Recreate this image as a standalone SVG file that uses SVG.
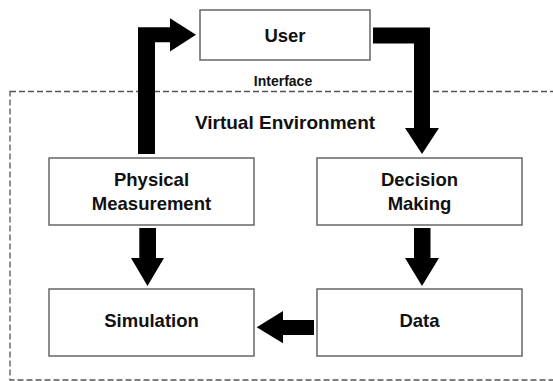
<svg xmlns="http://www.w3.org/2000/svg" width="553" height="381" viewBox="0 0 553 381">
<style>
.box{fill:#fff;stroke:#666;stroke-width:1.5}
.lbl{font-family:"Liberation Sans",Arial,sans-serif;font-weight:bold;font-size:18.5px;fill:#111;text-anchor:middle}
.arr{fill:#000}
.env{fill:none;stroke:#555;stroke-width:1.3;stroke-dasharray:6 3}
</style>
<rect width="553" height="381" fill="#fff"/>
<g id="virtual-environment">
<rect class="env" x="10" y="91.5" width="560" height="288.5"/>
<text class="lbl" x="285" y="128.5" style="font-size:19px">Virtual Environment</text>
</g>
<g id="interface">
<text class="lbl" x="283" y="85.5" style="font-size:14px">Interface</text>
</g>
<g id="user">
<rect class="box" x="200" y="10" width="170" height="50"/>
<text class="lbl" x="285" y="41.5">User</text>
</g>
<g id="physical-measurement">
<rect class="box" x="49" y="158" width="205" height="67"/>
<text class="lbl" x="151.5" y="186">Physical</text>
<text class="lbl" x="151.5" y="209.5">Measurement</text>
</g>
<g id="decision-making">
<rect class="box" x="317" y="158" width="205" height="67"/>
<text class="lbl" x="419.5" y="186">Decision</text>
<text class="lbl" x="419.5" y="209.5">Making</text>
</g>
<g id="simulation">
<rect class="box" x="49" y="289" width="205" height="67"/>
<text class="lbl" x="151.5" y="327">Simulation</text>
</g>
<g id="data">
<rect class="box" x="317" y="289" width="205" height="67"/>
<text class="lbl" x="419.5" y="327">Data</text>
</g>
<g id="connectors">
<polygon class="arr" points="138,154 138,27.3 170,27.3 170,18.3 196,34.8 170,51.5 170,42.3 155,42.3 155,154"/>
<polygon class="arr" points="373,27.5 430,27.5 430,128 439,128 422,154 405,128 414,128 414,43.5 373,43.5"/>
<polygon class="arr" points="139.3,228 156,228 156,258 164,258 147.5,286 131,258 139.3,258"/>
<polygon class="arr" points="414,228 430.5,228 430.5,258 439,258 422,286 405,258 414,258"/>
<polygon class="arr" points="314,320 283,320 283,311 256.7,327.3 283,343.3 283,335 314,335"/>
</g>
</svg>
